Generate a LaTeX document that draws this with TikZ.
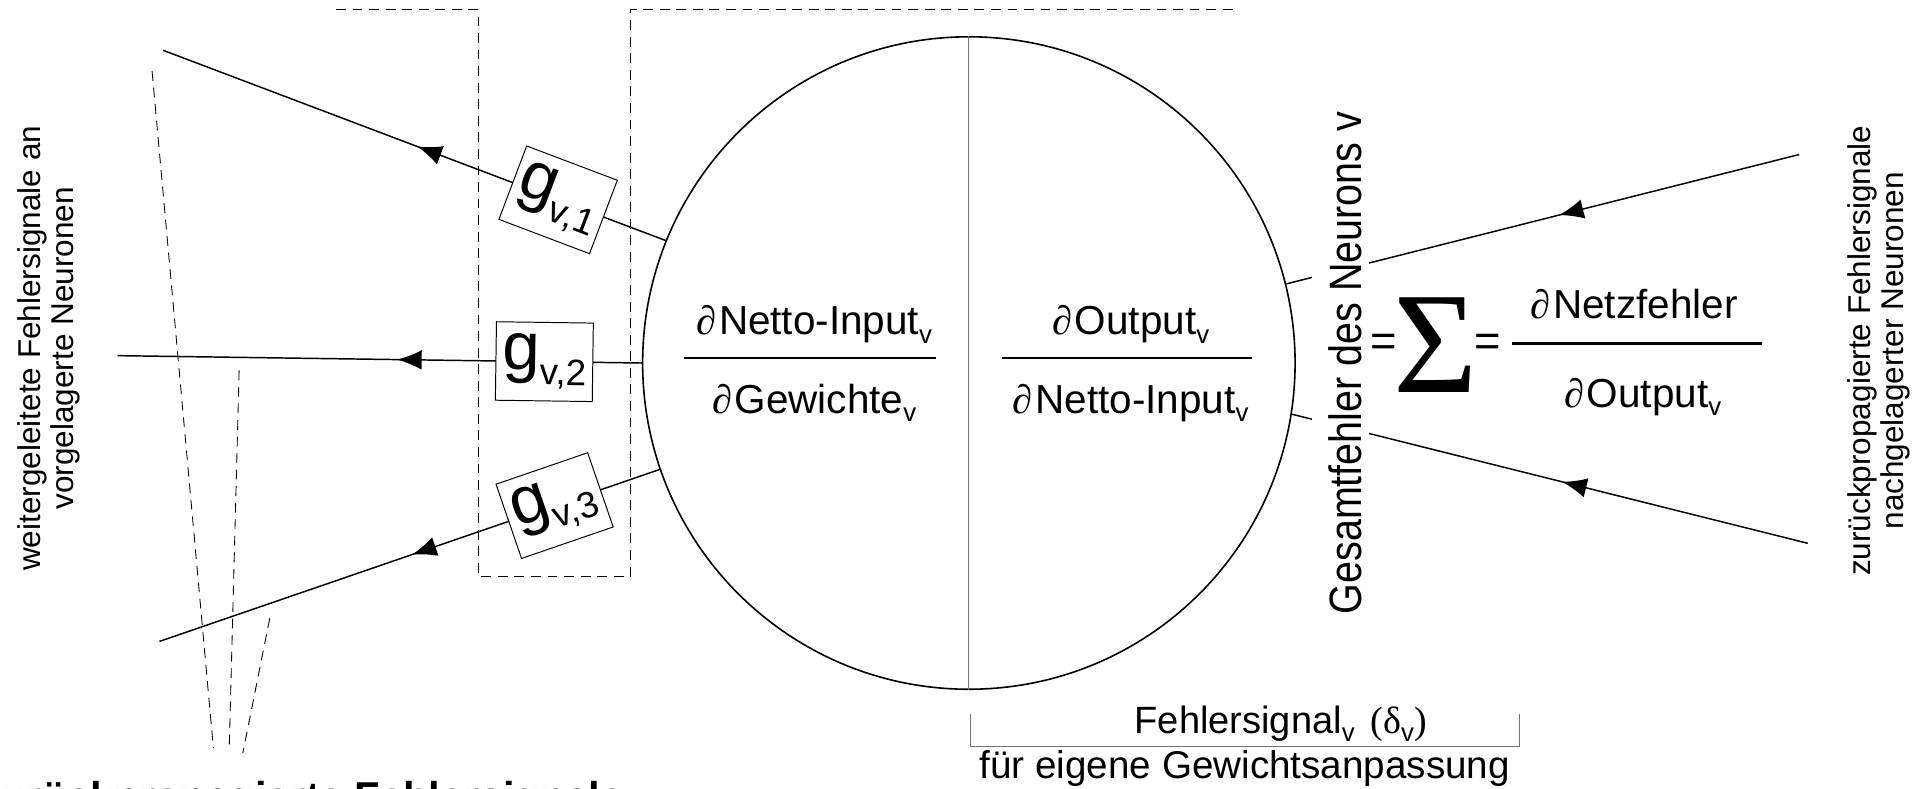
\documentclass[tikz,border=0pt]{standalone}
\usepackage{fontspec}
\setmainfont{Liberation Sans}
\newfontfamily\timesfont{Liberation Serif}
\newfontfamily\narrowsans[FakeStretch=0.87]{Liberation Sans}
\usetikzlibrary{arrows.meta,decorations.markings}

\newcommand{\subv}{\raisebox{-7pt}{\fontsize{21}{21}\selectfont v}}
\newcommand{\pd}{{\timesfont\itshape ∂}\hspace{2pt}}
\newcommand{\gweight}[1]{{\fontsize{55}{55}\selectfont g}\raisebox{-12pt}{\fontsize{30}{30}\selectfont v,#1}}

\tikzset{
  signal/.style={line width=1.2pt},
  midarrow/.style={postaction={decorate},
    decoration={markings,mark=at position #1 with {\arrow{Latex[length=20pt,width=16pt]}}}},
  gbox/.style={draw,fill=white,line width=0.8pt,minimum width=79pt,minimum height=64pt,sloped},
  dashbox/.style={line width=0.8pt,dash pattern=on 8pt off 5.5pt},
  fan/.style={line width=0.7pt,dash pattern=on 8pt off 5.5pt},
  fracbar/.style={line width=2pt},
  greyline/.style={line width=0.8pt,black!55},
  formula/.style={anchor=base,font=\fontsize{33}{33}\selectfont},
  sidetext/.style={rotate=90,align=center,font=\fontsize{25.7}{27}\selectfont},
}

\begin{document}
\begin{tikzpicture}[x=1pt,y=1pt,every node/.style={inner sep=0pt}]
    \useasboundingbox (0,0) rectangle (1568,-643);
    % dashed frame round the weights
    \draw[dashbox] (274,-8) -- (390,-8) -- (390,-470) -- (514,-470) -- (514,-8) -- (1008,-8);
    \foreach \xa/\ya/\xb/\yb in {124/58/174/610, 195/302/187/607, 220/504/198/614}
    \draw[fan] (\xa,-\ya) -- (\xb,-\yb);

    % the neuron
    \node[circle,draw,line width=1.3pt,minimum size=532pt] (neuron) at (790,-296) {};
    \draw[greyline] (neuron.north) -- (neuron.south);

    \node[formula] (numL) at (664,-273) {\pd Netto-Input\subv};
    \node[formula] (denL) at (664,-337) {\pd Gewichte\subv};
    \draw[fracbar] (558,-292) -- (763,-292);
    \node[formula] (numR) at (922,-273) {\pd Output\subv};
    \node[formula] (denR) at (922,-337) {\pd Netto-Input\subv};
    \draw[fracbar] (817,-292) -- (1021,-292);

    % signals to the previous neurons
    \coordinate (in1) at (133,-41);
    \coordinate (in2) at (96,-290);
    \coordinate (in3) at (130,-523);
    \draw[signal,midarrow=0.494] (neuron.158) -- node[gbox,pos=0.214] (gv1) {\gweight{1}} (in1);
    \draw[signal,midarrow=0.467] (neuron.west) -- node[gbox,pos=0.186] (gv2) {\gweight{2}} (in2);
    \draw[signal,midarrow=0.495] (neuron.199.8) -- node[gbox,pos=0.21] (gv3) {\gweight{3}} (in3);

    % signals from the next neurons
    \coordinate (out1) at (1467,-126);
    \coordinate (out2) at (1474,-443);
    \draw[signal,midarrow=0.468] (out1) -- (neuron.14.3);
    \draw[signal,midarrow=0.476] (out2) -- (neuron.351.3);
    \node[rotate=90,anchor=base,fill=white,text height=40pt,text depth=6pt,
      font=\narrowsans\fontsize{37}{37}\selectfont] (total) at (1110,-296) {Gesamtfehler des Neurons v};

    \node[formula,font=\fontsize{37}{37}\selectfont] (eqL) at (1128,-291) {=};
    \node[anchor=base,font=\timesfont\fontsize{118}{118}\selectfont] (sigma) at (1170.5,-320) {Σ};
    \node[formula,font=\fontsize{37}{37}\selectfont] (eqR) at (1213,-291) {=};
    \node[formula] (numE) at (1332.5,-259.5) {\pd Netzfehler};
    \node[formula] (denE) at (1339.5,-332) {\pd Output\subv};
    \draw[fracbar] (1233,-280) -- (1437,-280);

    \node[sidetext] (fwd) at (40,-284) {weitergeleitete Fehlersignale an\\vorgelagerte Neuronen};
    \node[sidetext] (back) at (1532,-286) {zurückpropagierte Fehlersignale\\nachgelagerter Neuronen};

    % own error signal
    \draw[greyline] (791,-582) -- (791,-609) -- (1239,-609) -- (1239,-582);
    \node[anchor=base west,font=\fontsize{31}{31}\selectfont] (delta) at (925,-598)
      {Fehlersignal\subv\hspace{13pt}{\timesfont(δ}\subv{\timesfont)}};
    \node[anchor=base,font=\fontsize{31.5}{31.5}\selectfont] (ownadj) at (1015,-634.5) {für eigene Gewichtsanpassung};
    \node[anchor=base west,font=\bfseries\fontsize{34}{34}\selectfont] (backprop) at (-17,-661.5) {zurückpropagierte Fehlersignale};
\end{tikzpicture}
\end{document}
